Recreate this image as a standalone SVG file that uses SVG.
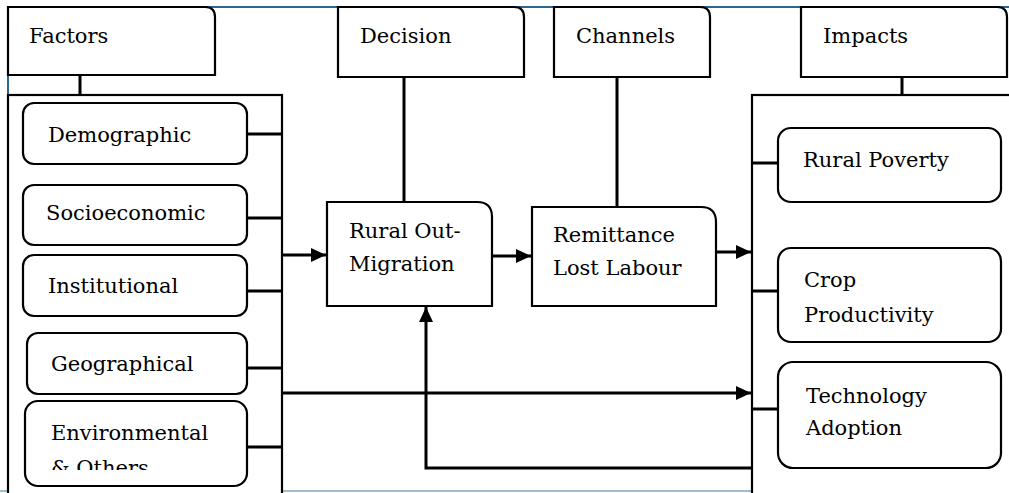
<svg xmlns="http://www.w3.org/2000/svg" width="1009" height="493" viewBox="0 0 1009 493">
<defs>
<style>
.box{fill:#fff;stroke:#000;stroke-width:2.2}
.ln{fill:none;stroke:#000;stroke-width:3}
text{font-family:'DejaVu Serif',serif;font-size:21px;fill:#000}
</style>
<marker id="ah" markerWidth="15" markerHeight="14" refX="15" refY="7" orient="auto" markerUnits="userSpaceOnUse" viewBox="0 0 15 14">
<path d="M0,0 L15,7 L0,14 z" fill="#000"/>
</marker>
<clipPath id="envclip"><rect x="20" y="398" width="230" height="72"/></clipPath>
</defs>
<rect width="1009" height="493" fill="#fff"/>
<line x1="8" y1="7" x2="1009" y2="7" stroke="#2a6690" stroke-width="2"/>
<line x1="8" y1="7" x2="8" y2="493" stroke="#2a6690" stroke-width="2"/>
<line x1="0" y1="491" x2="1009" y2="491" stroke="#9cbfce" stroke-width="2"/>

<g id="containers">
<rect class="box" x="8" y="95" width="274" height="410"/>
<rect class="box" x="752" y="95" width="270" height="410"/>
</g>

<g id="connectors">
<line class="ln" x1="80" y1="75" x2="80" y2="95"/>
<line class="ln" x1="902" y1="77" x2="902" y2="95"/>
<line class="ln" x1="404" y1="77" x2="404" y2="202"/>
<line class="ln" x1="617" y1="77" x2="617" y2="207"/>
<line class="ln" x1="247" y1="134" x2="282" y2="134"/>
<line class="ln" x1="247" y1="218" x2="282" y2="218"/>
<line class="ln" x1="247" y1="291" x2="282" y2="291"/>
<line class="ln" x1="247" y1="368" x2="282" y2="368"/>
<line class="ln" x1="247" y1="447" x2="282" y2="447"/>
<line class="ln" x1="752" y1="163" x2="778" y2="163"/>
<line class="ln" x1="752" y1="291" x2="778" y2="291"/>
<line class="ln" x1="752" y1="409" x2="778" y2="409"/>
<line class="ln" x1="282" y1="255" x2="326" y2="255" marker-end="url(#ah)"/>
<line class="ln" x1="493" y1="256" x2="531" y2="256" marker-end="url(#ah)"/>
<line class="ln" x1="717" y1="252" x2="751" y2="252" marker-end="url(#ah)"/>
<line class="ln" x1="282" y1="393" x2="751" y2="393" marker-end="url(#ah)"/>
<polyline class="ln" points="752,468 426,468 426,307" marker-end="url(#ah)"/>
</g>

<g id="factors">
<path class="box" d="M8,7 H205 Q215,7 215,17 V75 H8 Z"/>
<text x="29" y="43">Factors</text>
</g>
<g id="decision">
<path class="box" d="M338,7 H514 Q524,7 524,17 V77 H338 Z"/>
<text x="360" y="43">Decision</text>
</g>
<g id="channels">
<path class="box" d="M554,7 H700 Q710,7 710,17 V77 H554 Z"/>
<text x="576" y="43">Channels</text>
</g>
<g id="impacts">
<path class="box" d="M801,7 H997 Q1007,7 1007,17 V77 H801 Z"/>
<text x="823" y="43">Impacts</text>
</g>

<g id="demographic">
<rect class="box" x="23" y="103" width="224" height="61" rx="11"/>
<text x="48" y="142">Demographic</text>
</g>
<g id="socioeconomic">
<rect class="box" x="23" y="185" width="224" height="60" rx="11"/>
<text x="46" y="220">Socioeconomic</text>
</g>
<g id="institutional">
<rect class="box" x="23" y="255" width="224" height="61" rx="11"/>
<text x="48" y="293">Institutional</text>
</g>
<g id="geographical">
<rect class="box" x="27" y="333" width="220" height="61" rx="11"/>
<text x="51" y="371">Geographical</text>
</g>
<g id="environmental">
<rect class="box" x="25" y="401" width="222" height="85" rx="13"/>
<g clip-path="url(#envclip)">
<text x="51" y="440">Environmental</text>
<text x="51" y="475">&amp; Others</text>
</g>
</g>

<g id="rural-out-migration">
<path class="box" d="M327,202 H477 Q492,202 492,217 V306 H327 Z"/>
<text x="349" y="238">Rural Out-</text>
<text x="349" y="271">Migration</text>
</g>
<g id="remittance">
<path class="box" d="M532,207 H701 Q716,207 716,222 V306 H532 Z"/>
<text x="553" y="242">Remittance</text>
<text x="553" y="275">Lost Labour</text>
</g>

<g id="rural-poverty">
<rect class="box" x="778" y="128" width="223" height="74" rx="13"/>
<text x="803" y="167">Rural Poverty</text>
</g>
<g id="crop-productivity">
<rect class="box" x="778" y="248" width="223" height="94" rx="13"/>
<text x="804" y="287">Crop</text>
<text x="804" y="322">Productivity</text>
</g>
<g id="technology-adoption">
<rect class="box" x="778" y="362" width="223" height="106" rx="15"/>
<text x="806" y="403">Technology</text>
<text x="806" y="435">Adoption</text>
</g>
</svg>
